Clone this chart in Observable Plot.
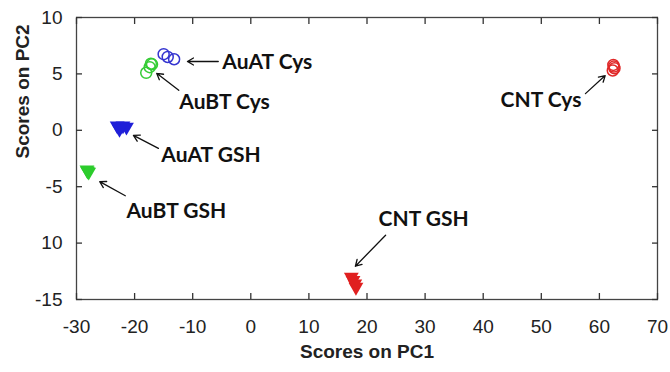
<!DOCTYPE html>
<html>
<head>
<meta charset="utf-8">
<script src="https://cdn.jsdelivr.net/npm/d3@7"></script>
<script src="https://cdn.jsdelivr.net/npm/@observablehq/plot@0.6"></script>
<style>
  html, body { margin: 0; padding: 0; background: #fff; }
  #chart svg { display: block; }
</style>
</head>
<body>
<div id="chart"></div>
<script>
// PCA scores, one entry per replicate measurement
const group = [
  "AuAT Cys", "AuAT Cys", "AuAT Cys",
  "AuBT Cys", "AuBT Cys", "AuBT Cys", "AuBT Cys",
  "AuAT GSH", "AuAT GSH", "AuAT GSH", "AuAT GSH",
  "AuBT GSH", "AuBT GSH", "AuBT GSH",
  "CNT Cys", "CNT Cys", "CNT Cys", "CNT Cys",
  "CNT GSH", "CNT GSH", "CNT GSH", "CNT GSH"
];
const pc1 = [
  -15.0, -14.3, -13.2,
  -17.0, -17.4, -18.0, -17.2,
  -23.0, -22.0, -21.4, -22.6,
  -28.2, -27.9, -28.1,
  62.4, 62.6, 62.3, 62.5,
  17.3, 17.6, 17.9, 18.1
];
const pc2 = [
  6.75, 6.5, 6.3,
  5.85, 5.6, 5.1, 5.9,
  0.4, 0.4, 0.3, 0.1,
  -3.5, -3.7, -3.6,
  5.8, 5.5, 5.3, 5.65,
  -13.0, -13.3, -13.6, -13.9
];

// Series styling keys
const cysGroups = ["AuAT Cys", "AuBT Cys", "CNT Cys"];
const gshGroups = ["AuAT GSH", "AuBT GSH", "CNT GSH"];
const groupColor = {
  "AuAT Cys": "#3535d0", "AuBT Cys": "#35cc35", "CNT Cys": "#e02828",
  "AuAT GSH": "#1f1fd8", "AuBT GSH": "#2ccc2c", "CNT GSH": "#e02020"
};

// Annotation labels with their pointer arrows (PC1/PC2 units)
const noteText   = ["AuAT Cys", "AuBT Cys", "AuAT GSH", "AuBT GSH", "CNT GSH", "CNT Cys"];
const noteX      = [-4.9, -12.3, -15.4, -21.4, 22.0, 56.9];
const noteY      = [6.0, 2.45, -2.25, -7.2, -7.9, 2.65];
const noteAnchor = ["start", "start", "start", "start", "start", "end"];
const arrowX1 = [-5.6, -12.4, -15.9, -21.6, 23.2, 57.6];
const arrowY1 = [6.1, 3.55, -1.6, -5.8, -9.3, 3.25];
const arrowX2 = [-10.9, -16.2, -20.2, -26.0, 18.0, 61.0];
const arrowY2 = [6.1, 5.05, -0.45, -4.55, -12.05, 4.85];

// Axis ticks
const xTicks = [-30, -20, -10, 0, 10, 20, 30, 40, 50, 60, 70];
const yTicks = [-15, -10, -5, 0, 5, 10];
const yTickLabels = ["-15", "10", "-5", "0", "5", "10"];

const points = group.map((g, i) => ({group: g, pc1: pc1[i], pc2: pc2[i]}));
const notes = noteText.map((t, i) => ({
  text: t, x: noteX[i], y: noteY[i], anchor: noteAnchor[i],
  x1: arrowX1[i], y1: arrowY1[i], x2: arrowX2[i], y2: arrowY2[i]
}));

const tickLen = 6;
const tickFont = {fontSize: 19, fontFamily: "Liberation Sans, Arial, sans-serif"};
const axisColor = "#444";
const noteFont = {fontSize: 21, fontWeight: "bold", fontFamily: "Lato, sans-serif", fill: "#111"};
const tickStyle = {stroke: "#333", strokeWidth: 1.3, text: null, label: null, tickSize: tickLen};

const chart = Plot.plot({
  width: 670,
  height: 372,
  marginLeft: 76,
  marginRight: 13,
  marginTop: 17,
  marginBottom: 73,
  style: {background: "#fff", color: "#222"},
  x: {domain: [-30, 70], label: null},
  y: {domain: [-15, 10], label: null},
  marks: [
    Plot.frame({stroke: axisColor, strokeWidth: 1.3, fill: "none"}),
    // ticks on all four sides, shifted by their own length so they point inward
    Plot.axisX(xTicks, {anchor: "bottom", dy: -tickLen, ...tickStyle}),
    Plot.axisX(xTicks, {anchor: "top", dy: tickLen, ...tickStyle}),
    Plot.axisY(yTicks, {anchor: "left", dx: tickLen, ...tickStyle}),
    Plot.axisY(yTicks, {anchor: "right", dx: -tickLen, ...tickStyle}),
    // tick labels
    Plot.axisX(xTicks, {anchor: "bottom", tickSize: 0, tickPadding: 20, label: null, ...tickFont, fill: "#222",
      tickFormat: (d) => String(d)}),
    Plot.axisY(yTicks, {anchor: "left", tickSize: 0, tickPadding: 14, label: null, ...tickFont, fill: "#222",
      tickFormat: (d) => yTickLabels[yTicks.indexOf(d)]}),
    // axis titles
    Plot.text(["Scores on PC1"], {frameAnchor: "bottom", dy: 58, fontSize: 19, fontWeight: "bold",
      fontFamily: "Liberation Sans, Arial, sans-serif", fill: "#222"}),
    Plot.text(["Scores on PC2"], {frameAnchor: "left", dx: -54, rotate: -90, fontSize: 19, fontWeight: "bold",
      fontFamily: "Liberation Sans, Arial, sans-serif", fill: "#222"}),
    // Cys: open circles
    Plot.dot(points.filter(d => cysGroups.includes(d.group)), {
      x: "pc1", y: "pc2", r: 5.5, symbol: "circle", fill: "none", strokeWidth: 1.5,
      stroke: d => groupColor[d.group]
    }),
    // GSH: filled downward triangles
    Plot.dot(points.filter(d => gshGroups.includes(d.group)), {
      x: "pc1", y: "pc2", r: 5.5, symbol: "triangle", rotate: 180, stroke: "none",
      fill: d => groupColor[d.group]
    }),
    // annotation arrows and labels
    Plot.arrow(notes, {x1: "x1", y1: "y1", x2: "x2", y2: "y2", stroke: "#111", strokeWidth: 1.3, headLength: 8}),
    Plot.text(notes.filter(d => d.anchor === "start"), {x: "x", y: "y", text: "text", textAnchor: "start", ...noteFont}),
    Plot.text(notes.filter(d => d.anchor === "end"), {x: "x", y: "y", text: "text", textAnchor: "end", ...noteFont})
  ]
});

document.getElementById("chart").append(chart);
</script>
</body>
</html>
